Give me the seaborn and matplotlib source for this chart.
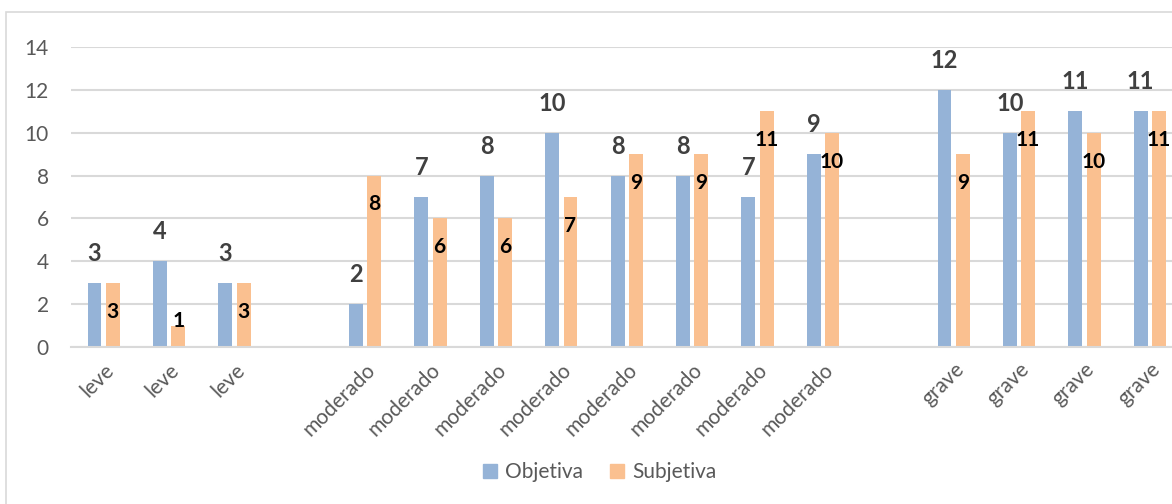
import numpy as np
import pandas as pd
import matplotlib
matplotlib.use("Agg")
import matplotlib.pyplot as plt
import seaborn as sns
from matplotlib.patches import Rectangle

categories = ["leve", "leve", "leve", "",
              "moderado", "moderado", "moderado", "moderado",
              "moderado", "moderado", "moderado", "moderado", "",
              "grave", "grave", "grave", "grave"]
objetiva = [3, 4, 3, np.nan, 2, 7, 8, 10, 8, 8, 7, 9, np.nan, 12, 10, 11, 11]
subjetiva = [3, 1, 3, np.nan, 8, 6, 6, 7, 9, 9, 11, 10, np.nan, 9, 11, 10, 11]
series = ["Objetiva", "Subjetiva"]
colors = ["#95B3D7", "#FAC090"]

pos = list(range(len(categories)))
df = pd.DataFrame({
    "pos": pos * 2,
    "valor": objetiva + subjetiva,
    "serie": [series[0]] * len(pos) + [series[1]] * len(pos),
})

sns.set_style("white")
plt.rcParams["font.family"] = ["Lato", "DejaVu Sans"]

fig = plt.figure(figsize=(11.72, 5.04), dpi=100)
ax = fig.add_axes([71 / 1172, 1 - 347 / 504, 1 - 71 / 1172, 300 / 504])

sns.barplot(data=df, x="pos", y="valor", hue="serie", order=pos,
            hue_order=series, palette=colors, width=0.56, gap=0.24,
            saturation=1, edgecolor="none", ax=ax)

# labels: Objetiva above the bar, Subjetiva inside the top of the bar
blue_c, orange_c = ax.containers[0], ax.containers[1]
ax.bar_label(blue_c, fmt="%g", padding=13, color="#404040",
             fontsize=17, fontweight="bold")
for p in orange_c:
    h = p.get_height()
    if np.isnan(h):
        continue
    ax.text(p.get_x() + p.get_width() / 2, max(h - 1.35, 1.21), f"{h:g}",
            ha="center", va="center", color="#000000",
            fontsize=15, fontweight="bold")

ax.set_ylim(0, 14)
ax.set_xlim(-0.5, 16.34)
ax.set_yticks(range(0, 15, 2))
ax.yaxis.grid(True, color="#D9D9D9", linewidth=1.5)
ax.set_axisbelow(True)
for s in ["top", "right", "left"]:
    ax.spines[s].set_visible(False)
ax.spines["bottom"].set_color("#D9D9D9")
ax.spines["bottom"].set_linewidth(1.5)

ax.set_xticks(pos)
ax.set_xticklabels(categories, rotation=45, ha="right", va="top",
                   rotation_mode="anchor", color="#595959", fontsize=15)
ax.tick_params(axis="y", labelsize=15, labelcolor="#595959", pad=16, length=0)
ax.tick_params(axis="x", length=0, pad=9)
ax.set_xlabel("")
ax.set_ylabel("")

ax.legend_.remove()
handles = [Rectangle((0, 0), 1, 1, color=c) for c in colors]
fig.legend(handles, series, loc="center", bbox_to_anchor=(600 / 1172, 1 - 472 / 504),
           ncol=2, frameon=False, fontsize=15, handlelength=0.65, handleheight=0.65,
           handletextpad=0.4, columnspacing=1.3, labelcolor="#595959")

# chart border
fig.patches.append(Rectangle((6 / 1172, -0.1), 1.1, 1.1 - 12 / 504,
                             transform=fig.transFigure, fill=False,
                             edgecolor="#D9D9D9", linewidth=1.2))

fig.savefig("out.png", dpi=100)
